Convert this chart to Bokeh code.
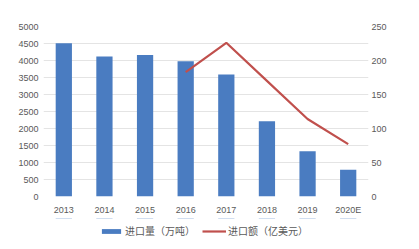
from bokeh.plotting import figure
from bokeh.models import Range1d, LinearAxis, Legend, LegendItem, ColumnDataSource, FactorRange, SingleIntervalTicker
from bokeh.layouts import column
from bokeh.embed import file_html
from bokeh.resources import INLINE

years = ["2013", "2014", "2015", "2016", "2017", "2018", "2019", "2020E"]
volume = [4510, 4120, 4160, 3980, 3590, 2210, 1330, 790]
value_years = ["2016", "2017", "2018", "2019", "2020E"]
value_amt = [183, 226, 170, 114, 77]

vol_label = "进口量（万吨）"
val_label = "进口额（亿美元）"

bar_color = "#4a7cc1"
line_color = "#c0504d"
label_color = "#595959"

p = figure(width=419, height=218, x_range=FactorRange(*years), y_range=Range1d(0, 5000),
           output_backend="svg", toolbar_location=None,
           min_border_left=43, min_border_right=51, min_border_top=26, min_border_bottom=22)
p.outline_line_color = None
p.extra_y_ranges = {"right": Range1d(0, 250)}

src_bar = ColumnDataSource(dict(x=years, y=volume))
p.vbar(x="x", top="y", width=0.4, source=src_bar, fill_color=bar_color, line_color=None)
src_line = ColumnDataSource(dict(x=value_years, y=value_amt))
p.line(x="x", y="y", source=src_line, y_range_name="right", line_color=line_color, line_width=2.2)

p.yaxis[0].ticker = SingleIntervalTicker(interval=500)
ax2 = LinearAxis(y_range_name="right", ticker=SingleIntervalTicker(interval=50))
p.add_layout(ax2, "right")
for ax in p.axis:
    ax.axis_line_color = None
    ax.major_tick_line_color = None
    ax.minor_tick_line_color = None
    ax.major_tick_out = 0
    ax.major_tick_in = 0
    ax.minor_tick_out = 0
    ax.major_label_text_color = label_color
    ax.major_label_text_font = "Liberation Sans"
    ax.major_label_text_font_size = "9px"
    ax.major_label_standoff = 5
ax2.major_label_standoff = 3
p.xaxis.major_label_standoff = 8
p.xgrid.grid_line_color = None
p.ygrid.grid_line_color = "#e4e4e4"
p.ygrid.ticker = SingleIntervalTicker(interval=500)

# legend strip (its renderers lie outside its visible range; only the legend shows)
lg = figure(width=419, height=31, x_range=FactorRange(*years), y_range=Range1d(-2, -1),
            output_backend="svg", toolbar_location=None, x_axis_type=None, y_axis_type=None,
            min_border=0)
lg.outline_line_color = None
lg.xgrid.grid_line_color = None
lg.ygrid.grid_line_color = None
rb = lg.vbar(x="x", top="y", width=0.4, source=ColumnDataSource(dict(x=years, y=volume)),
             fill_color=bar_color, line_color=None)
rl = lg.line(x="x", y="y", source=ColumnDataSource(dict(x=value_years, y=value_amt)),
             line_color=line_color, line_width=2.2)
legend = Legend(items=[LegendItem(label=vol_label, renderers=[rb]),
                       LegendItem(label=val_label, renderers=[rl])],
                orientation="horizontal", location=(56, 11),
                label_text_font="Noto Sans CJK SC", label_text_font_size="10px",
                label_text_color=label_color, glyph_width=24, glyph_height=6,
                label_standoff=2, spacing=7, padding=4, margin=0,
                border_line_color=None, background_fill_alpha=0)
lg.add_layout(legend)

open("out.html", "w").write(file_html(column(p, lg, spacing=0), INLINE))
